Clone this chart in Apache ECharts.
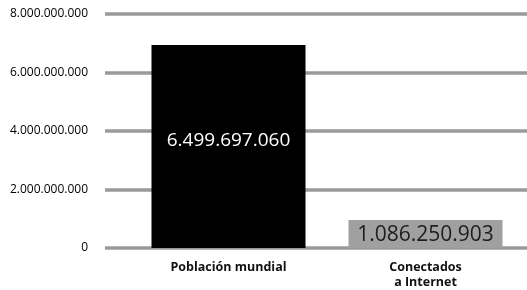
<!DOCTYPE html>
<html>
<head>
<meta charset="utf-8">
<script src="https://cdn.jsdelivr.net/npm/echarts@6/dist/echarts.min.js"></script>
<style>
  html, body { margin: 0; padding: 0; background: #fff; }
  #chart { width: 527px; height: 290px; }
</style>
</head>
<body>
<div id="chart"></div>
<script>
const categories = ['Población mundial', 'Conectados\na Internet']
const values = [6940000000, 960000000]
const valueLabels = ['6.499.697.060', '1.086.250.903']
const barColors = ['#000000', '#a0a0a0']
const labelColors = ['#ffffff', '#1e1e1e']
const labelSizes = [19, 21]
const labelOffsets = [[0, -6], [0, 1]]

// miles con punto
const fmt = v => String(v).replace(/\B(?=(\d{3})+(?!\d))/g, '.')

const chart = echarts.init(document.getElementById('chart'))

const option = {
  animation: false,
  textStyle: { fontFamily: 'Open Sans' },
  grid: [
    { left: 105, right: 0, top: 14, bottom: 42, outerBoundsMode: 'none' },
    { left: 130, right: 3, top: 14, bottom: 42, outerBoundsMode: 'none' }
  ],
  xAxis: [
    { gridIndex: 0, type: 'value', show: false },
    {
      gridIndex: 1,
      type: 'category',
      data: categories,
      axisLine: { show: false },
      axisTick: { show: false },
      axisLabel: {
        color: '#111',
        fontWeight: 'bold',
        fontSize: 12.5,
        lineHeight: 15,
        margin: 12
      }
    }
  ],
  yAxis: [
    {
      gridIndex: 0,
      type: 'value',
      min: 0,
      max: 8000000000,
      interval: 2000000000,
      axisLine: { show: false },
      axisTick: { show: false },
      axisLabel: {
        color: '#000',
        fontSize: 12,
        margin: 17,
        formatter: v => fmt(v)
      },
      splitLine: { lineStyle: { color: '#9a9a9a', width: 3.5 } }
    },
    {
      gridIndex: 1,
      type: 'value',
      min: 0,
      max: 8000000000,
      interval: 2000000000,
      show: false,
      splitLine: { show: false }
    }
  ],
  series: [
    {
      type: 'bar',
      xAxisIndex: 1,
      yAxisIndex: 1,
      barWidth: 154,
      data: values.map((v, i) => ({
        value: v,
        itemStyle: { color: barColors[i] },
        label: { color: labelColors[i], fontSize: labelSizes[i], offset: labelOffsets[i] }
      })),
      label: {
        show: true,
        position: 'inside',
        formatter: p => valueLabels[p.dataIndex]
      }
    }
  ]
}

chart.setOption(option)
</script>
</body>
</html>
